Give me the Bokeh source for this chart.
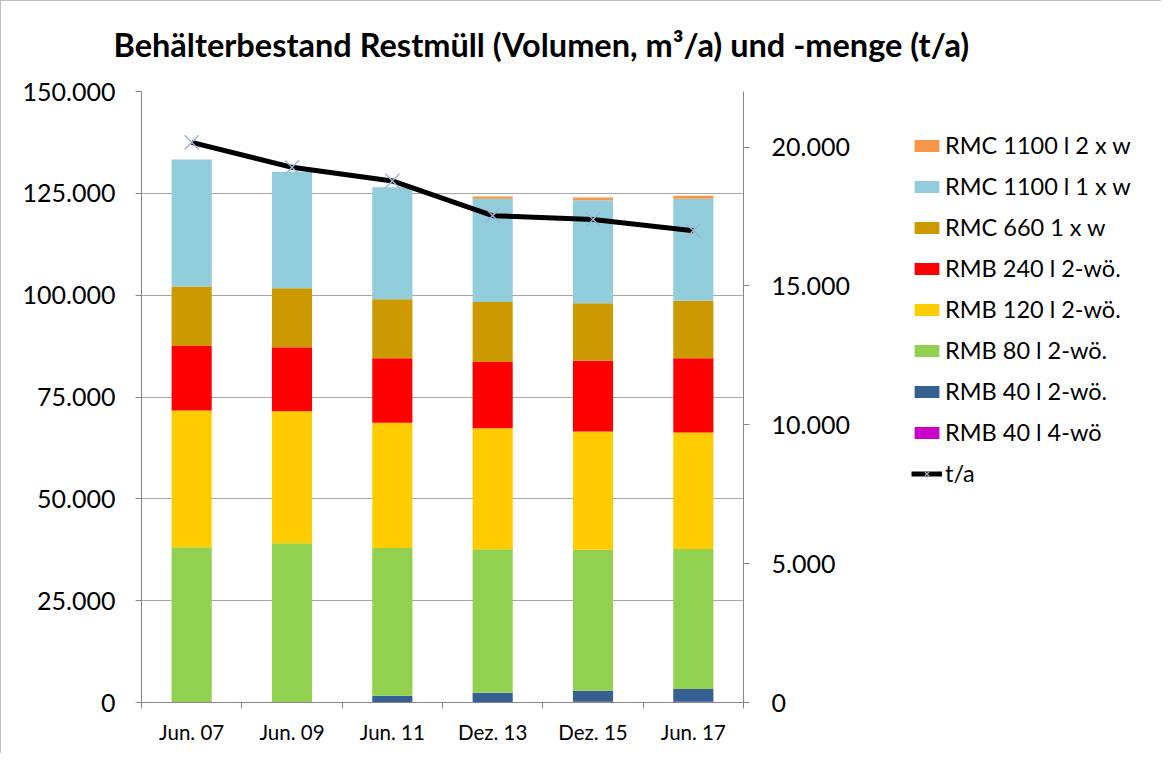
from bokeh.plotting import figure
from bokeh.layouts import row, column
from bokeh.models import (Range1d, LinearAxis, FixedTicker, CustomJSTickFormatter,
                          Legend, LegendItem)
from bokeh.embed import file_html
from bokeh.resources import INLINE

categories = ["Jun. 07", "Jun. 09", "Jun. 11", "Dez. 13", "Dez. 15", "Jun. 17"]

rmb40_4 = [0, 0, 0, 150, 200, 200]
rmb40_2 = [0, 0, 1650, 2250, 2700, 3100]
rmb80_2 = [38100, 39100, 36250, 35200, 34600, 34400]
rmb120_2 = [33600, 32400, 30800, 29700, 29000, 28600]
rmb240_2 = [15800, 15700, 15800, 16300, 17400, 18200]
rmc660_1 = [14600, 14500, 14500, 14700, 14100, 14100]
rmc1100_1 = [31200, 28600, 27500, 25400, 25300, 25100]
rmc1100_2 = [0, 0, 0, 500, 700, 700]
tonnes = [20170, 19270, 18780, 17530, 17390, 16990]

series_names = ["RMB 40 l 4-wö", "RMB 40 l 2-wö.", "RMB 80 l 2-wö.", "RMB 120 l 2-wö.",
                "RMB 240 l 2-wö.", "RMC 660 1 x w", "RMC 1100 l 1 x w", "RMC 1100 l 2 x w"]
series_values = [rmb40_4, rmb40_2, rmb80_2, rmb120_2, rmb240_2, rmc660_1, rmc1100_1, rmc1100_2]
series_colors = ["#cc00cc", "#366092", "#92d050", "#ffcc00", "#ff0000", "#cc9900", "#92cddc", "#f79646"]

title_text = "Behälterbestand Restmüll (Volumen, m³/a) und -menge (t/a)"

FONT = "Lato"
LINE_COLOR = "black"
MARK_COLOR = "#9db2d6"
NAN = float("nan")

# ---- title strip ----
tf = figure(width=1160, height=72, output_backend="svg", toolbar_location=None,
            x_range=Range1d(0, 1), y_range=Range1d(0, 1),
            x_axis_type=None, y_axis_type=None,
            min_border_left=112, min_border_right=0, min_border_top=62, min_border_bottom=0)
tf.outline_line_color = None
tf.grid.visible = False
tf.border_fill_color = "white"
tf.title.text = title_text
tf.title.text_font = FONT
tf.title.text_font_size = "32.5px"
tf.title.text_font_style = "bold"
tf.title.text_color = "black"
tf.title.align = "left"
tf.title.offset = 0
tf.title.standoff = 0

# ---- main chart ----
p = figure(width=870, height=680, output_backend="svg", toolbar_location=None,
           x_range=Range1d(0, len(categories)), y_range=Range1d(0, 150000),
           min_border_left=140, min_border_right=128, min_border_top=18, min_border_bottom=51)
p.outline_line_color = None
p.background_fill_color = "white"
p.border_fill_color = "white"
p.extra_y_ranges = {"right": Range1d(0, 22000)}

xs = [i + 0.5 for i in range(len(categories))]
data = {"x": xs}
keys = []
for i, vals in enumerate(series_values):
    k = "s%d" % i
    data[k] = vals
    keys.append(k)

p.vbar_stack(keys, x="x", width=0.4, color=series_colors, line_color=None, source=data)

p.line(xs, tonnes, y_range_name="right", line_color=LINE_COLOR, line_width=5)
p.scatter(xs, tonnes, y_range_name="right", marker="x", size=20,
          line_color=MARK_COLOR, line_width=1.4)

thousands = CustomJSTickFormatter(code="""
    return Math.round(tick).toString().replace(/\\B(?=(\\d{3})+(?!\\d))/g, '.');
""")

xaxis = p.xaxis[0]
xaxis.ticker = FixedTicker(ticks=xs, minor_ticks=list(range(len(categories) + 1)))
xaxis.major_label_overrides = {x: c for x, c in zip(xs, categories)}
xaxis.major_tick_out = 0
xaxis.major_tick_in = 0
xaxis.minor_tick_out = 6
xaxis.minor_tick_in = 0
xaxis.minor_tick_line_color = "#868686"
xaxis.axis_line_color = "#868686"
xaxis.major_label_text_font = FONT
xaxis.major_label_text_font_size = "20.5px"
xaxis.major_label_text_color = "black"
xaxis.major_label_standoff = 11

yaxis = p.yaxis[0]
yaxis.ticker = FixedTicker(ticks=list(range(0, 150001, 25000)))
yaxis.formatter = thousands
yaxis.major_tick_out = 6
yaxis.major_tick_in = 0
yaxis.minor_tick_line_color = None
yaxis.axis_line_color = "#868686"
yaxis.major_tick_line_color = "#868686"
yaxis.major_label_text_font = FONT
yaxis.major_label_text_font_size = "25px"
yaxis.major_label_text_color = "black"
yaxis.major_label_standoff = 20

raxis = LinearAxis(y_range_name="right", ticker=FixedTicker(ticks=list(range(0, 20001, 5000))),
                   formatter=thousands)
raxis.major_tick_out = 6
raxis.major_tick_in = 0
raxis.minor_tick_line_color = None
raxis.axis_line_color = "#868686"
raxis.major_tick_line_color = "#868686"
raxis.major_label_text_font = FONT
raxis.major_label_text_font_size = "25px"
raxis.major_label_text_color = "black"
raxis.major_label_standoff = 22
p.add_layout(raxis, "right")

p.xgrid.grid_line_color = None
p.ygrid.ticker = FixedTicker(ticks=list(range(0, 150001, 25000)))
p.ygrid.grid_line_color = "#a6a6a6"
p.ygrid.grid_line_width = 1

# ---- legend panel (separate figure so the legend is not clipped by the chart frame) ----
lg = figure(width=290, height=680, output_backend="svg", toolbar_location=None,
            x_range=Range1d(0, 1), y_range=Range1d(0, 1),
            x_axis_type=None, y_axis_type=None,
            min_border_left=0, min_border_right=0, min_border_top=0, min_border_bottom=0)
lg.outline_line_color = None
lg.grid.visible = False
lg.border_fill_color = "white"

items = []
for name, color in reversed(list(zip(series_names, series_colors))):
    r = lg.vbar(x=[NAN], top=[NAN], width=0.5, fill_color=color, line_color=None)
    items.append(LegendItem(label=name, renderers=[r]))
lr = lg.line(x=[NAN], y=[NAN], line_color=LINE_COLOR, line_width=5)
mr = lg.scatter(x=[NAN], y=[NAN], marker="x", size=20, line_color=MARK_COLOR, line_width=1.4)
items.append(LegendItem(label="t/a", renderers=[lr, mr]))

legend = Legend(items=items, location=(40, 214), orientation="vertical",
                padding=0, margin=0, border_line_color=None, background_fill_alpha=0,
                glyph_width=31, glyph_height=15, label_standoff=3, spacing=11,
                label_height=30, label_text_font=FONT, label_text_font_size="23.5px",
                label_text_color="black")
lg.add_layout(legend, "center")

layout = column(tf, row(p, lg, spacing=0), spacing=0)
layout.styles = {"border-left": "1px solid #bdbdbd", "border-top": "1px solid #bdbdbd"}

open("out.html", "w").write(file_html(layout, INLINE))
